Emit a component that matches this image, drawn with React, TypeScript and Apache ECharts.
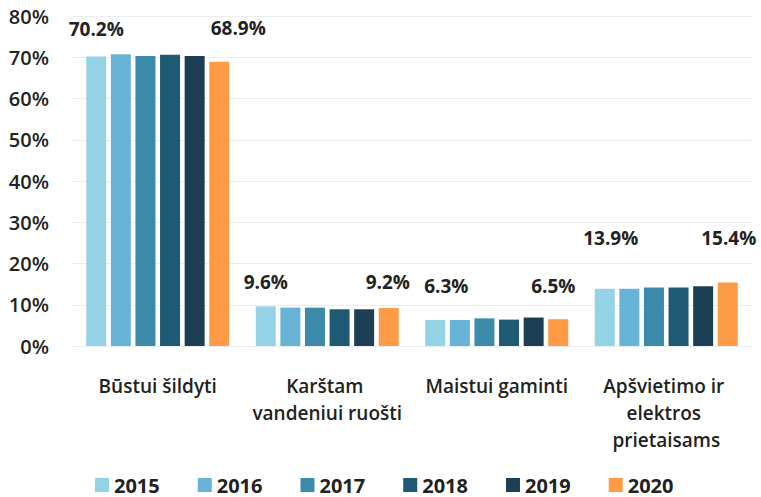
import React, { useEffect, useRef } from "react";
import * as echarts from "echarts";

const categories = [
  "Būstui šildyti",
  "Karštam vandeniui ruošti",
  "Maistui gaminti",
  "Apšvietimo ir elektros prietaisams",
];
const years = ["2015", "2016", "2017", "2018", "2019", "2020"];
const v2015 = [70.2, 9.6, 6.3, 13.9];
const v2016 = [70.7, 9.3, 6.3, 13.9];
const v2017 = [70.3, 9.3, 6.7, 14.2];
const v2018 = [70.6, 8.9, 6.4, 14.2];
const v2019 = [70.3, 8.9, 6.9, 14.5];
const v2020 = [68.9, 9.2, 6.5, 15.4];
const yTicks = [0, 10, 20, 30, 40, 50, 60, 70, 80];

const seriesValues = [v2015, v2016, v2017, v2018, v2019, v2020];
const colors = ["#94D2E6", "#67B4D6", "#3D8BAA", "#1E5A73", "#1D3F53", "#FF9A46"];
// label placement tweaks (pixel offsets) for the labelled series
const labelOffsets: Record<number, number[][]> = {
  0: [[0, -13], [0, -10], [11, -20], [6, -36]],
  5: [[19, -19], [-1, -12], [-5, -19], [1, -30]],
};

const FONT = "Open Sans";

export default function App() {
  const ref = useRef<HTMLDivElement>(null);
  useEffect(() => {
    if (!ref.current) return;
    const chart = echarts.init(ref.current, undefined, { renderer: "svg" });
    const series = years.map((y, si) => {
      const offs = labelOffsets[si];
      return {
        name: y,
        type: "bar",
        barWidth: 20,
        barGap: "23%",
        itemStyle: { color: colors[si] },
        data: seriesValues[si].map((v, i) =>
          offs
            ? {
                value: v,
                label: {
                  show: true,
                  position: "top",
                  distance: 5,
                  offset: offs[i],
                  formatter: (p: any) => p.value.toFixed(1) + "%",
                  fontFamily: FONT,
                  fontWeight: "bold",
                  fontSize: 19,
                  color: "#222",
                },
              }
            : v
        ),
      };
    });
    chart.setOption({
      animation: false,
      backgroundColor: "#fff",
      color: colors,
      grid: { left: 73, right: 10, top: 16, bottom: 151, containLabel: false },
      legend: {
        data: years,
        left: 95,
        top: 474,
        icon: "rect",
        itemWidth: 14,
        itemHeight: 14,
        itemGap: 38,
        padding: 0,
        textStyle: {
          fontFamily: FONT,
          fontWeight: "bold",
          fontSize: 20,
          lineHeight: 22,
          color: "#222",
        },
      },
      xAxis: {
        type: "category",
        data: categories,
        axisLine: { show: false },
        axisTick: { show: false },
        axisLabel: {
          interval: 0,
          margin: 26,
          width: 165,
          overflow: "break",
          lineHeight: 27,
          fontFamily: FONT,
          fontWeight: 600,
          fontSize: 19,
          color: "#222",
        },
      },
      yAxis: {
        type: "value",
        min: yTicks[0],
        max: yTicks[yTicks.length - 1],
        interval: 10,
        axisLine: { show: false },
        axisTick: { show: false },
        splitLine: { lineStyle: { color: "#ececec", width: 1 } },
        axisLabel: {
          formatter: "{value}%",
          margin: 24,
          padding: [12, 0, 0, 0],
          fontFamily: FONT,
          fontWeight: 600,
          fontSize: 20,
          color: "#222",
        },
      },
      series,
    });
    return () => chart.dispose();
  }, []);
  return (
    <div
      ref={ref}
      style={{ position: "fixed", left: 0, top: 0, width: 761, height: 497 }}
    />
  );
}
